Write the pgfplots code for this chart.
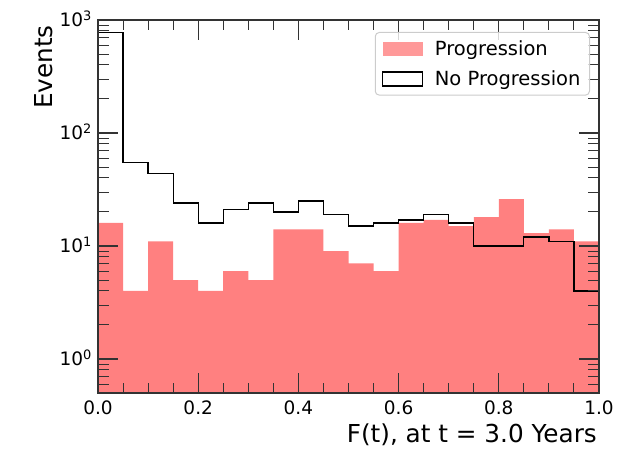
\documentclass[border=0pt]{standalone}
\usepackage{fontspec}
\setmainfont{DejaVu Sans}
\usepackage{pgfplots}
\pgfplotsset{compat=1.18}
\definecolor{prog}{RGB}{255,128,128}
\definecolor{spine}{RGB}{51,51,51}
\definecolor{legframe}{RGB}{204,204,204}
\begin{document}
\begin{tikzpicture}
\useasboundingbox (0pt,0pt) rectangle (633pt,448pt);
\begin{axis}[
  at={(98pt,55pt)}, anchor=south west,
  scale only axis, width=501pt, height=373pt,
  ymode=log, log origin y=infty,
  xmin=0, xmax=1, ymin=0.5, ymax=1000,
  xtick={0,0.2,0.4,0.6,0.8,1.0},
  xticklabels={0.0,0.2,0.4,0.6,0.8,1.0},
  minor xtick={0.05,0.1,0.15,0.25,0.3,0.35,0.45,0.5,0.55,0.65,0.7,0.75,0.85,0.9,0.95},
  ytick={1,10,100,1000},
  yticklabels={10\textsuperscript{0},10\textsuperscript{1},10\textsuperscript{2},10\textsuperscript{3}},
  minor ytick={0.5,0.6,0.7,0.8,0.9,2,3,4,5,6,7,8,9,20,30,40,50,60,70,80,90,200,300,400,500,600,700,800,900},
  tick align=inside,
  major tick length=20pt, minor tick length=10.5pt,
  every major tick/.style={spine, line width=1.2pt},
  every minor tick/.style={spine, line width=1pt},
  axis line style={spine, line width=1.2pt},
  axis on top,
  tick label style={font=\fontsize{18.5}{22}\selectfont},
  xticklabel style={anchor=base, inner sep=0pt, yshift=-21pt},
  yticklabel style={anchor=base east, inner sep=0pt, xshift=-6pt, yshift=-7pt},
  xlabel={F(t), at t = 3.0 Years},
  ylabel={Events},
  label style={font=\fontsize{24.7}{29}\selectfont, inner sep=0pt},
  xlabel style={at={(rel axis cs:0.996,-0.134)}, anchor=base east},
  ylabel style={at={(rel axis cs:-0.0918,0.9866)}, anchor=base east, rotate=0},
  legend cell align=left,
  legend style={at={(rel axis cs:1,1)}, anchor=north east, xshift=-9pt, yshift=-12pt,
    draw=legframe, line width=1pt, rounded corners=4pt, fill=white, fill opacity=0.8,
    text opacity=1, draw opacity=1,
    font=\fontsize{19.5}{23}\selectfont, inner xsep=7pt, inner ysep=6pt, row sep=10pt},
]
\addplot[ybar interval, fill=prog, draw=none,
  legend image code/.code={\fill[prog, sharp corners] (0pt,-7pt) rectangle (40pt,7pt); \path[draw=none, fill=none] (0pt,0pt) -- (50pt,0pt);}]
  coordinates {(0,16) (0.05,4) (0.1,11) (0.15,5) (0.2,4) (0.25,6) (0.3,5) (0.35,14) (0.4,14) (0.45,9) (0.5,7) (0.55,6) (0.6,16) (0.65,17) (0.7,15) (0.75,18) (0.8,26) (0.85,13) (0.9,14) (0.95,11) (1,11)};
\addlegendentry{Progression}
\addplot[const plot, black, line width=1.2pt, mark=none,
  legend image code/.code={\draw[black, line width=1.2pt, sharp corners] (0pt,-7pt) rectangle (40pt,7pt); \path[draw=none, fill=none] (0pt,0pt) -- (50pt,0pt);}]
  coordinates {(0,780) (0.05,55) (0.1,44) (0.15,24) (0.2,16) (0.25,21) (0.3,24) (0.35,20) (0.4,25) (0.45,19) (0.5,15) (0.55,16) (0.6,17) (0.65,19) (0.7,16) (0.75,10) (0.8,10) (0.85,12) (0.9,11) (0.95,4) (1,4)};
\addlegendentry{No Progression}
\end{axis}
\end{tikzpicture}
\end{document}
